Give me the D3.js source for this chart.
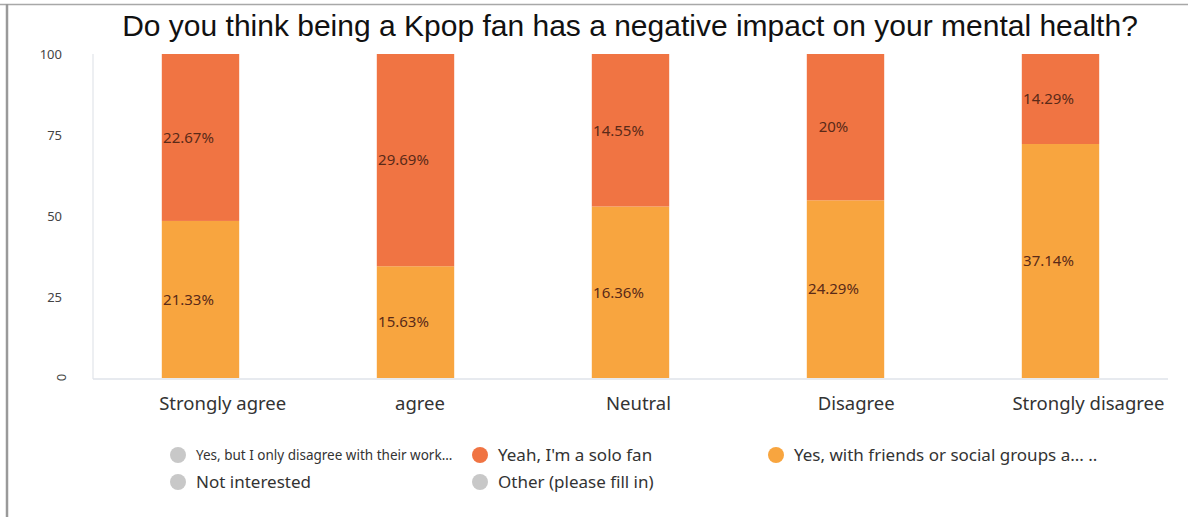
<!DOCTYPE html>
<html>
<head>
<meta charset="utf-8">
<script src="https://cdn.jsdelivr.net/npm/d3@7"></script>
<style>
  html, body { margin: 0; padding: 0; background: #fff; }
  svg { display: block; }
</style>
</head>
<body>
<svg id="chart" width="1188" height="517"></svg>
<script>
// Answer groups along the x axis
const categories = ["Strongly agree", "agree", "Neutral", "Disagree", "Strongly disagree"];

// Share of respondents per answer (percent), for the two visible fan types
const friendsGroupValues = [21.33, 15.63, 16.36, 24.29, 37.14];
const soloFanValues = [22.67, 29.69, 14.55, 20, 14.29];

// Visible series, bottom to top
const seriesNames = ["Yes, with friends or social groups a... ..", "Yeah, I'm a solo fan"];
const seriesColors = ["#f8a53f", "#f07443"];

// Legend entries (hidden series are greyed out)
const legendNames = [
  "Yes, but I only disagree with their work...",
  "Yeah, I'm a solo fan",
  "Yes, with friends or social groups a... ..",
  "Not interested",
  "Other (please fill in)"
];
const legendActive = [false, true, true, false, false];

const yTicks = [0, 25, 50, 75, 100];
const title = "Do you think being a Kpop fan has a negative impact on your mental health?";

const svg = d3.select("#chart");
const W = 1188, H = 517;

// frame lines
svg.append("line").attr("x1", 0).attr("x2", W).attr("y1", 4.5).attr("y2", 4.5)
  .attr("stroke", "#a8a8a8").attr("stroke-width", 1.5);
svg.append("line").attr("x1", 7).attr("x2", 7).attr("y1", 4).attr("y2", H)
  .attr("stroke", "#9a9a9a").attr("stroke-width", 2.5);

svg.append("text")
  .attr("x", 630).attr("y", 36)
  .attr("text-anchor", "middle")
  .attr("font-family", "Liberation Sans, Arial, sans-serif")
  .attr("font-size", 30)
  .attr("fill", "#111")
  .text(title);

const plot = { left: 93, right: 1168, top: 54, bottom: 378 };

const x = d3.scaleBand()
  .domain(categories)
  .range([plot.left, plot.right])
  .paddingInner(0.64)
  .paddingOuter(0.32);

const y = d3.scaleLinear().domain([0, 100]).range([plot.bottom, plot.top]);

const rows = categories.map((c, i) => ({
  cat: c,
  [seriesNames[0]]: friendsGroupValues[i],
  [seriesNames[1]]: soloFanValues[i]
}));

const stacked = d3.stack()
  .keys(seriesNames)
  .offset(d3.stackOffsetExpand)(rows);

// axes lines
svg.append("line").attr("x1", plot.left).attr("x2", plot.left)
  .attr("y1", plot.top).attr("y2", plot.bottom + 1)
  .attr("stroke", "#e1e4ea").attr("stroke-width", 1.2);
svg.append("line").attr("x1", plot.left).attr("x2", plot.right)
  .attr("y1", plot.bottom + 1).attr("y2", plot.bottom + 1)
  .attr("stroke", "#dfe3ea").attr("stroke-width", 1.5);

// y axis tick labels
const yAxis = svg.append("g")
  .attr("transform", "translate(62,0)")
  .call(d3.axisLeft(y).tickValues(yTicks).tickSize(0).tickPadding(0));
yAxis.select(".domain").remove();
yAxis.selectAll("text")
  .attr("font-family", "Noto Sans, sans-serif")
  .attr("font-size", 13)
  .attr("fill", "#444")
  .attr("text-anchor", "end");
yAxis.selectAll(".tick").filter(d => d === 0).select("text")
  .attr("text-anchor", "middle")
  .attr("x", -1)
  .attr("dy", 0)
  .attr("transform", "rotate(90)")
  .attr("dominant-baseline", "central");
yAxis.selectAll(".tick").filter(d => d !== 0).select("text")
  .attr("dy", "0.32em");

// x axis labels, nudged right in proportion to their length
const xAxis = svg.append("g")
  .attr("transform", `translate(0,${plot.bottom + 14})`)
  .call(d3.axisBottom(x).tickSize(0).tickPadding(0));
xAxis.select(".domain").remove();
xAxis.selectAll("text")
  .attr("font-family", "Noto Sans, sans-serif")
  .attr("font-size", 18.5)
  .attr("fill", "#333")
  .attr("dy", "0.95em")
  .attr("dx", function () { return 0.23 * this.getComputedTextLength() - 7; });

// bars
const layers = svg.append("g").selectAll("g")
  .data(stacked)
  .join("g")
  .attr("fill", (d, i) => seriesColors[i]);

layers.selectAll("rect")
  .data(d => d)
  .join("rect")
  .attr("x", d => x(d.data.cat))
  .attr("width", x.bandwidth())
  .attr("y", d => y(d[1] * 100))
  .attr("height", d => y(d[0] * 100) - y(d[1] * 100));

// value labels
const labels = svg.append("g");
stacked.forEach((layer) => {
  layer.forEach(d => {
    const v = d.data[layer.key];
    labels.append("text")
      .attr("x", x(d.data.cat) + x.bandwidth() / 2 - 12)
      .attr("y", y((d[0] + d[1]) / 2 * 100))
      .attr("dy", "0.35em")
      .attr("text-anchor", "middle")
      .attr("font-family", "Noto Sans, sans-serif")
      .attr("font-size", 15)
      .attr("fill", "#5a2a18")
      .text(v + "%");
  });
});

// legend
const legendPos = [
  { x: 178, y: 455, size: 13.5 },
  { x: 480, y: 455, size: 17 },
  { x: 776, y: 455, size: 17 },
  { x: 178, y: 482, size: 17 },
  { x: 480, y: 482, size: 17 }
];
const legend = svg.append("g");
legendNames.forEach((name, i) => {
  const p = legendPos[i];
  const sIdx = seriesNames.indexOf(name);
  legend.append("circle")
    .attr("cx", p.x).attr("cy", p.y).attr("r", 8)
    .attr("fill", legendActive[i] && sIdx >= 0 ? seriesColors[sIdx] : "#c8c8c8");
  legend.append("text")
    .attr("x", p.x + 18).attr("y", p.y)
    .attr("dy", "0.35em")
    .attr("font-family", "Noto Sans, sans-serif")
    .attr("font-size", p.size)
    .attr("fill", "#333")
    .text(name);
});
</script>
</body>
</html>
